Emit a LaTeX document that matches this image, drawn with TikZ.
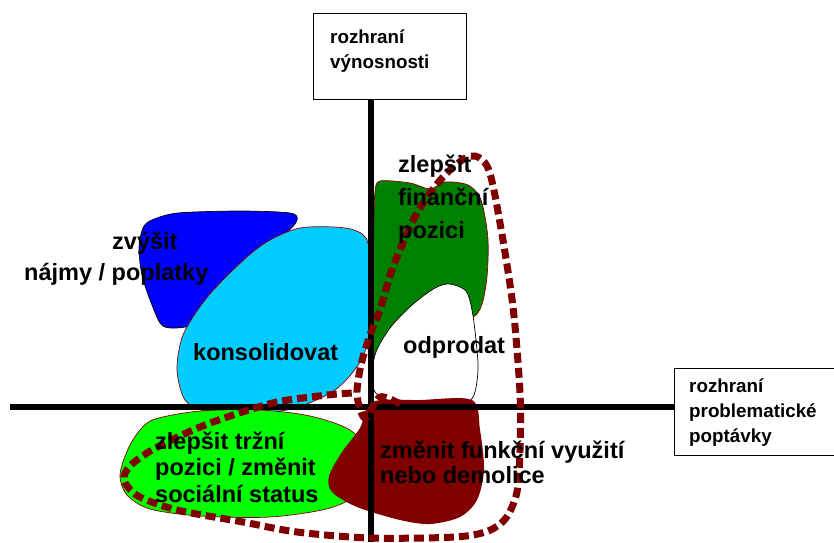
\documentclass[tikz,border=0pt]{standalone}
\usepackage{fontspec}
\setmainfont{Liberation Sans}
\usepackage{tikz}
\usepackage{xcolor}
\definecolor{maroon-red}{HTML}{800000}
\definecolor{sky-cyan}{HTML}{00CCFF}
\definecolor{leaf-green}{HTML}{008000}
\tikzset{
    axis-box/.style = {draw=black, fill=white, thin, rectangle, inner sep=0pt, anchor=north west},
    axis-label/.style = {align=left, inner sep=0pt, anchor=base west, font=\bfseries\fontsize{18.8}{24.8}\selectfont},
    area-label/.style = {align=left, inner sep=0pt, anchor=base west, font=\bfseries\fontsize{23.5}{26.5}\selectfont},
    area/.style = {line width=0.7pt},
    axis-line/.style = {line width=6pt},
    lasso/.style = {draw=maroon-red, line width=7pt, dash pattern=on 10pt off 5pt},
}

\begin{document}
\begin{tikzpicture}[x=1pt, y=-1pt]
\fill[white] (0,0) rectangle (834,542);
\useasboundingbox (0,0) rectangle (834,542);
\draw[area, fill=blue] plot[smooth cycle] coordinates {(152,220) (178,213) (240,211) (290,213) (297,220) (286,233) (245,265) (205,318) (185,327) (163,326) (152,305) (142,275) (139,248) (143,228)};
\draw[area, draw=maroon-red, fill=sky-cyan] plot[smooth cycle] coordinates {(300,228) (345,228) (366,238) (371,270) (370,330) (360,362) (335,390) (295,408) (250,414) (205,411) (185,400) (177,370) (183,335) (205,300) (235,268) (265,243)};
\draw[area, draw=maroon-red, fill=leaf-green] plot[smooth cycle] coordinates {(380,181) (410,183) (430,189) (445,182) (468,185) (481,200) (488,240) (486,285) (476,315) (440,330) (400,350) (374,365) (373,300) (374,220) (375,192)};
\draw[area, fill=white] plot[smooth cycle] coordinates {(450,284) (466,291) (472,310) (476,340) (478,370) (473,397) (455,410) (420,409) (390,401) (375,392) (372,375) (376,352) (390,328) (412,305) (435,288)};
\draw[area, draw=maroon-red, fill=green] plot[smooth cycle] coordinates {(155,419) (200,411) (260,410) (310,416) (350,430) (370,455) (362,490) (330,508) (270,517) (200,516) (150,509) (127,495) (120,475) (128,449) (140,430)};
\fill[maroon-red] plot[smooth cycle] coordinates {(372,402) (420,400) (472,400) (480,430) (484,470) (477,500) (460,517) (430,524) (400,520) (357,507) (332,492) (329,476) (342,452) (360,428)};

\node[axis-box, minimum width=153pt, minimum height=86pt] (yield-box) at (313,13) {};
\node[axis-box, draw=none, minimum width=160pt, minimum height=87pt] (demand-box) at (674,368) {};
\draw[thin] (demand-box.north east) -- (demand-box.north west) -- (demand-box.south west) -- (demand-box.south east);
\coordinate (yield-end) at (371,542);
\coordinate (demand-end) at (10,407);
\draw[axis-line] (yield-box.south -| yield-end) -- (yield-end);
\draw[axis-line] (demand-box.west |- demand-end) -- (demand-end);

\draw[lasso] plot[smooth] coordinates {(400,404) (380,397) (365,418) (357,395) (361,365) (370,335) (380,310) (393,267) (417,213) (443,177) (470,156) (488,168) (500,223) (513,307) (520,393) (520,450) (517,492) (506,518) (488,531) (455,537) (370,538) (297,532) (243,522) (177,510) (138,496) (124,480) (130,466) (152,450) (193,430) (230,416) (277,402) (327,395) (352,393)};

\node[axis-label] (yield-text) at (330,68) {rozhraní\\výnosnosti};
\node[axis-label] (demand-text) at (689,442) {rozhraní\\problematické\\poptávky};
\node[area-label] (raise-text) at (24,280) {\hspace*{88pt}zvýšit\\[4.5pt]nájmy / poplatky};
\node[area-label] (consolidate-text) at (193,360.7) {konsolidovat};
\node[area-label] (finance-text) at (398,238) {zlepšit\\[6.5pt]finanční\\[6.5pt]pozici};
\node[area-label] (sell-text) at (403,353) {odprodat};
\node[area-label] (market-text) at (155,502) {zlepšit tržní\\pozici / změnit\\sociální status};
\node[area-label] (change-text) at (380,483) {změnit funkční využití\\[-1.5pt]nebo demolice};
\end{tikzpicture}
\end{document}
